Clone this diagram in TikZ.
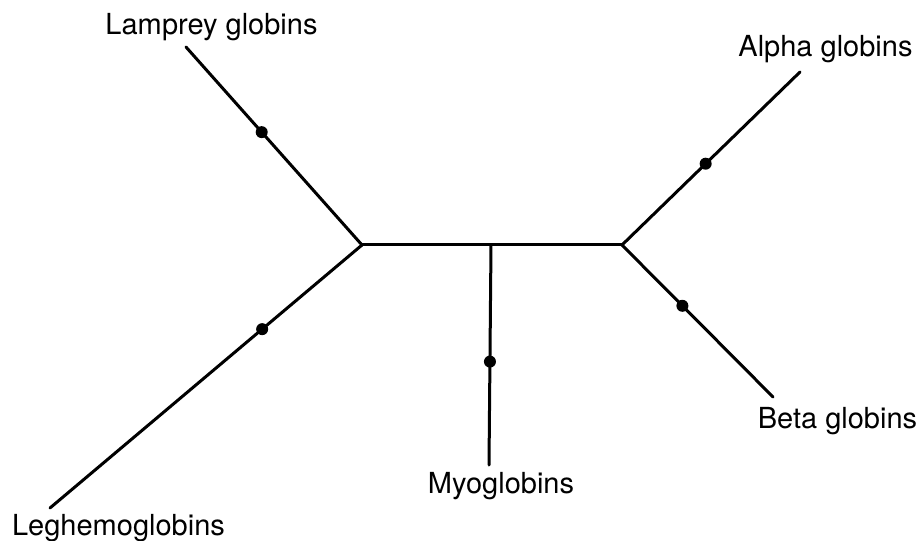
\documentclass[tikz,border=0pt]{standalone}
\usepackage{fontspec}
\setmainfont{TeX Gyre Heros}
\begin{document}
\begin{tikzpicture}[x=1bp,y=-1bp,
  branch/.style={line width=3bp,line cap=round,line join=round},
  mutdot/.style={circle,fill=black,inner sep=0pt,minimum size=12bp},
  taxon/.style={inner sep=0pt,anchor=base,font=\fontsize{29bp}{34bp}\selectfont}]
\useasboundingbox (0,0) rectangle (921,541);

% internal junctions of the tree
\coordinate (L) at (362,245);
\coordinate (M) at (491,245);
\coordinate (R) at (622,245);

% branch tips
\coordinate (tLam) at (186,47);
\coordinate (tLeg) at (50,508);
\coordinate (tMyo) at (489,465);
\coordinate (tAlp) at (800,72);
\coordinate (tBet) at (773,397);

% labels
\node[taxon] (lam) at (211.5,35) {Lamprey globins};
\node[taxon] (alp) at (825.5,57) {Alpha globins};
\node[taxon] (bet) at (837.5,428) {Beta globins};
\node[taxon] (myo) at (501,493) {Myoglobins};
\node[taxon] (leg) at (118.5,535) {Leghemoglobins};

% branches with their marks
\draw[branch] (L) -- (R);
\draw[branch] (L) -- node[mutdot,pos=0.57] (dLam) {} (tLam);
\draw[branch] (L) -- node[mutdot,pos=0.32] (dLeg) {} (tLeg);
\draw[branch] (M) -- node[mutdot,pos=0.53] (dMyo) {} (tMyo);
\draw[branch] (R) -- node[mutdot,pos=0.47] (dAlp) {} (tAlp);
\draw[branch] (R) -- node[mutdot,pos=0.40] (dBet) {} (tBet);
\end{tikzpicture}
\end{document}
